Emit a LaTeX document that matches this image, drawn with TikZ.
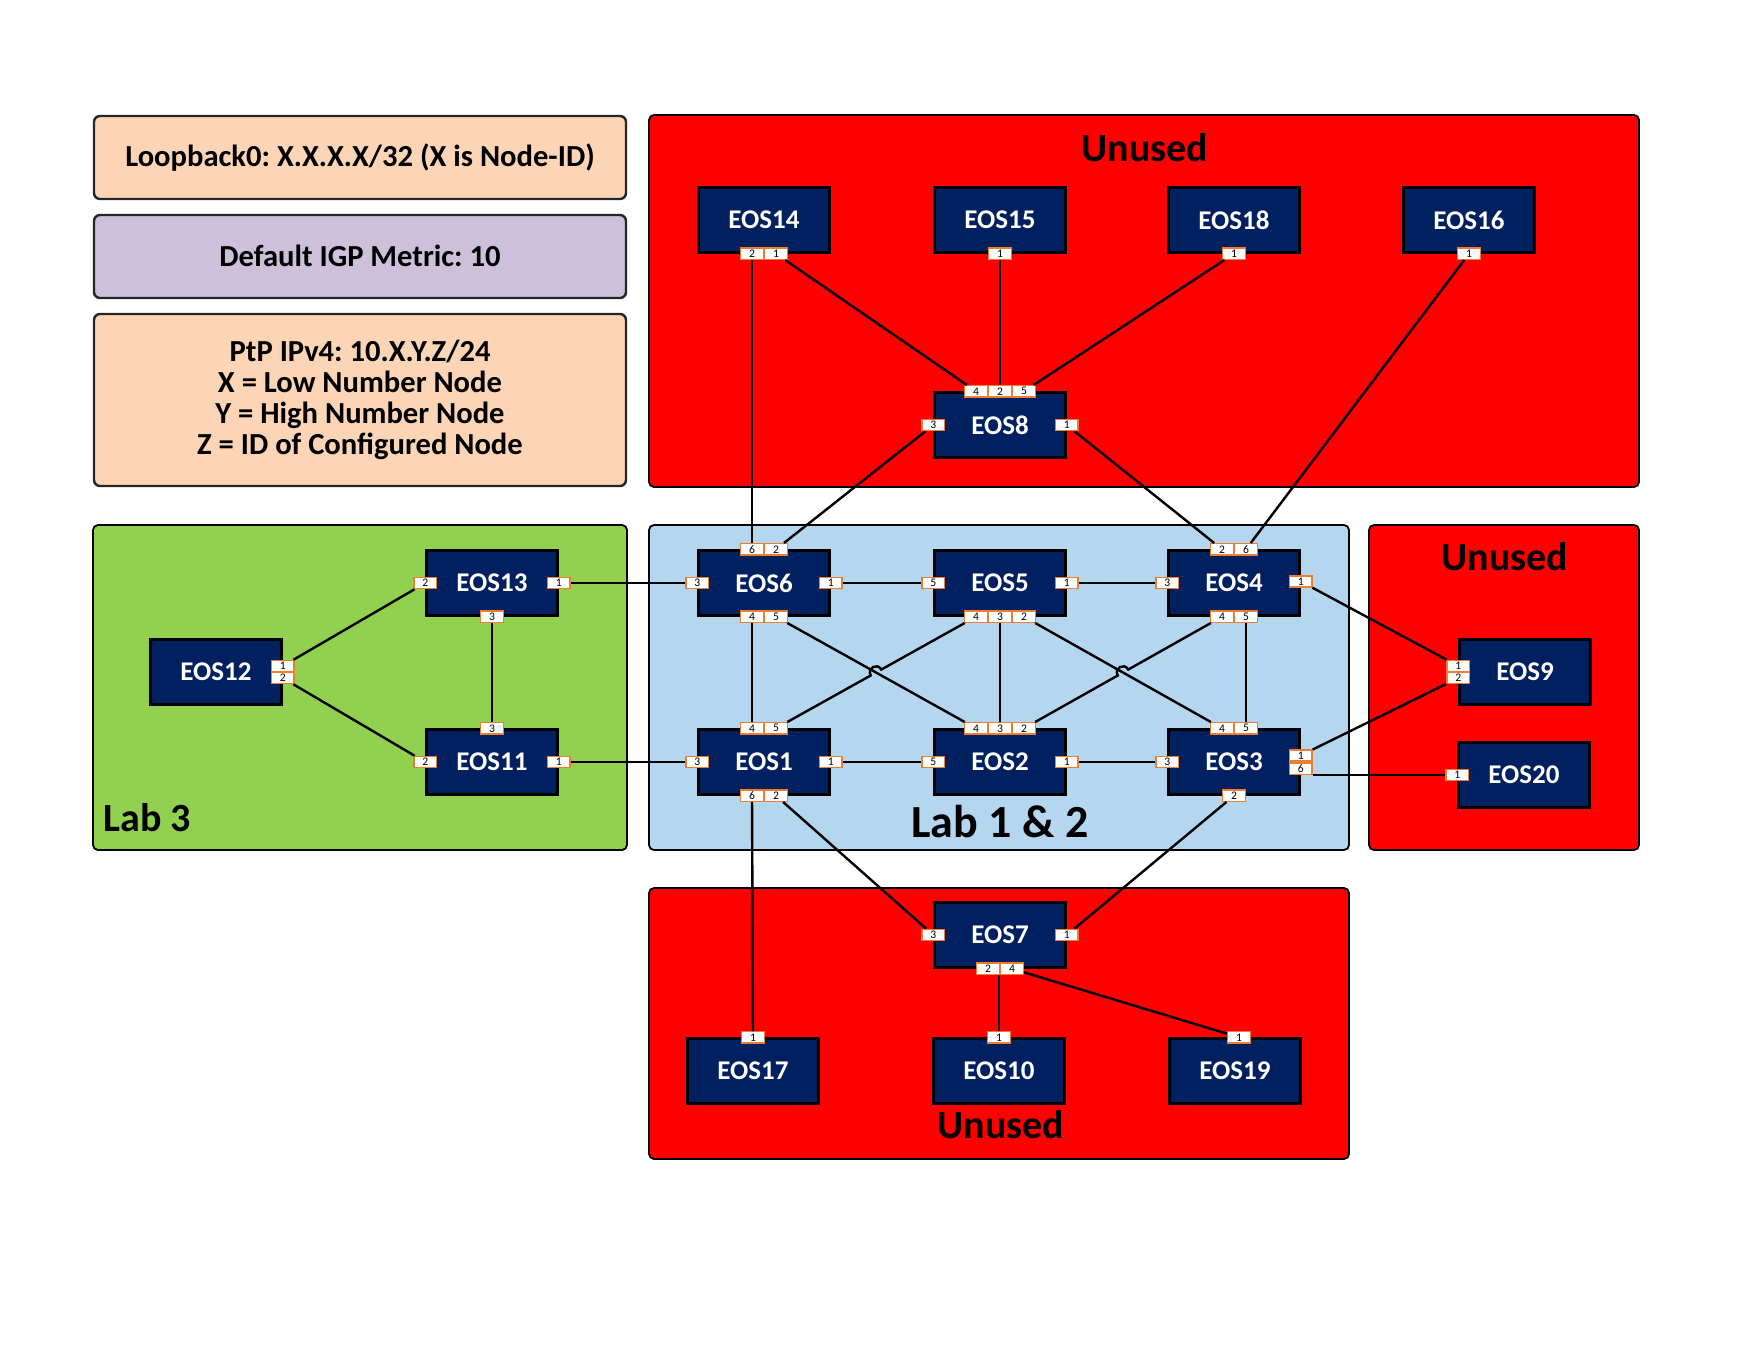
\documentclass[tikz,border=0pt]{standalone}
\usepackage{fontspec}
\setmainfont{Carlito}
\frenchspacing
\usetikzlibrary{calc}
\definecolor{navy}{RGB}{0,32,96}
\definecolor{peach}{RGB}{251,213,181}
\definecolor{lavender}{RGB}{204,192,218}
\definecolor{labgreen}{RGB}{146,208,80}
\definecolor{labblue}{RGB}{180,214,238}
\definecolor{unusedred}{RGB}{255,0,0}
\definecolor{portorange}{RGB}{237,125,49}
\begin{document}
\begin{tikzpicture}[x=0.5pt,y=-0.5pt,
  eos/.style={draw=black, line width=1.2pt, fill=navy, text=white,
    font=\fontsize{13.5}{15}\selectfont\bfseries,
    minimum width=65.5pt, minimum height=32.5pt, inner sep=0pt},
  port/.style={draw=portorange, fill=white, line width=0.7pt,
    minimum width=11.3pt, minimum height=5.6pt, inner sep=0pt,
    font=\fontsize{5.8}{6}\selectfont, text=black},
  grp/.style={draw=black, line width=0.9pt, rounded corners=2.5pt},
  legendbox/.style={draw=black!85, line width=1.2pt, rounded corners=3pt,
    font=\fontsize{15.3}{15.5}\selectfont\bfseries, align=center,
    minimum width=266pt, inner sep=0pt},
  grouplabel/.style={font=\fontsize{20}{22}\selectfont\bfseries, inner sep=0pt},
  link/.style={draw=black, line width=1.2pt}]
\useasboundingbox (0,0) rectangle (1760,1360);

% group areas
\path[grp, fill=unusedred] (649,115) rectangle (1639,487);
\path[grp, fill=labblue] (649,525) rectangle (1349,850);
\path[grp, fill=unusedred] (1369,525) rectangle (1639,850);
\path[grp, fill=unusedred] (649,888) rectangle (1349,1159);
\path[grp, fill=labgreen] (93,525) rectangle (627,850);

% group labels
\node[grouplabel] (lunusedtop) at (1145,148) {Unused};
\node[grouplabel] (lunusedright) at (1505,557) {Unused};
\node[grouplabel] (lunusedbottom) at (1001,1125) {Unused};
\node[grouplabel, font=\fontsize{23}{25}\selectfont\bfseries] (llab12) at (1000,822) {Lab 1 \& 2};
\node[grouplabel, anchor=west] (llab3) at (103,818) {Lab 3};

% legend
\node[legendbox, fill=peach, minimum height=41.5pt] (loop) at (360,157.5) {Loopback0: X.X.X.X/32 (X is Node-ID)};
\node[legendbox, fill=lavender, minimum height=41.5pt, text depth=0pt] (igp) at (360,256.5) {\raisebox{1pt}{Default IGP Metric: 10}};
\node[legendbox, fill=peach, minimum height=86pt] (ptp) at (360,400) {PtP IPv4: 10.X.Y.Z/24\\X = Low Number Node\\Y = High Number Node\\Z = ID of Configured Node};

% routers
\node[eos] (e14) at (764,220) {EOS14};
\node[eos] (e15) at (1000,220) {EOS15};
\node[eos] (e18) at (1234,220) {EOS18};
\node[eos] (e16) at (1469,220) {EOS16};
\node[eos] (e8) at (1000,425) {EOS8};
\node[eos] (e13) at (492,583) {EOS13};
\node[eos] (e6) at (764,583) {EOS6};
\node[eos] (e5) at (1000,583) {EOS5};
\node[eos] (e4) at (1234,583) {EOS4};
\node[eos] (e12) at (216,672) {EOS12};
\node[eos] (e9) at (1525,672) {EOS9};
\node[eos] (e11) at (492,762) {EOS11};
\node[eos] (e1) at (764,762) {EOS1};
\node[eos] (e2) at (1000,762) {EOS2};
\node[eos] (e3) at (1234,762) {EOS3};
\node[eos] (e20) at (1524,775) {EOS20};
\node[eos] (e7) at (1000,935) {EOS7};
\node[eos] (e17) at (753,1071) {EOS17};
\node[eos] (e10) at (999,1071) {EOS10};
\node[eos] (e19) at (1235,1071) {EOS19};

% ports
\node[port] (e14p2) at ([xshift=-6pt]e14.south) {2};
\node[port] (e14p1) at ([xshift=6pt]e14.south) {1};
\node[port] (e15p1) at (e15.south) {1};
\node[port] (e18p1) at (e18.south) {1};
\node[port] (e16p1) at (e16.south) {1};

\node[port] (e8p4) at ([xshift=-12pt]e8.north) {4};
\node[port] (e8p2) at (e8.north) {2};
\node[port] (e8p5) at ([xshift=12pt]e8.north) {5};
\node[port] (e8p3) at (e8.west) {3};
\node[port] (e8p1) at (e8.east) {1};

\node[port] (e13p2) at (e13.west) {2};
\node[port] (e13p1) at (e13.east) {1};
\node[port] (e13p3) at (e13.south) {3};

\node[port] (e6p6) at ([xshift=-6pt]e6.north) {6};
\node[port] (e6p2) at ([xshift=6pt]e6.north) {2};
\node[port] (e6p4) at ([xshift=-6pt]e6.south) {4};
\node[port] (e6p5) at ([xshift=6pt]e6.south) {5};
\node[port] (e6p3) at (e6.west) {3};
\node[port] (e6p1) at (e6.east) {1};

\node[port] (e5p5) at (e5.west) {5};
\node[port] (e5p1) at (e5.east) {1};
\node[port] (e5p4) at ([xshift=-12pt]e5.south) {4};
\node[port] (e5p3) at (e5.south) {3};
\node[port] (e5p2) at ([xshift=12pt]e5.south) {2};

\node[port] (e4p2) at ([xshift=-6pt]e4.north) {2};
\node[port] (e4p6) at ([xshift=6pt]e4.north) {6};
\node[port] (e4p3) at (e4.west) {3};
\node[port] (e4p1) at ([yshift=0.8pt]e4.east) {1};
\node[port] (e4p4) at ([xshift=-6pt]e4.south) {4};
\node[port] (e4p5) at ([xshift=6pt]e4.south) {5};

\node[port] (e12p1) at ([yshift=3pt]e12.east) {1};
\node[port] (e12p2) at ([yshift=-3pt]e12.east) {2};

\node[port] (e9p1) at ([yshift=3pt]e9.west) {1};
\node[port] (e9p2) at ([yshift=-3pt]e9.west) {2};

\node[port] (e11p3) at (e11.north) {3};
\node[port] (e11p2) at (e11.west) {2};
\node[port] (e11p1) at (e11.east) {1};

\node[port] (e1p4) at ([xshift=-6pt]e1.north) {4};
\node[port] (e1p5) at ([xshift=6pt]e1.north) {5};
\node[port] (e1p3) at (e1.west) {3};
\node[port] (e1p1) at (e1.east) {1};
\node[port] (e1p6) at ([xshift=-6pt]e1.south) {6};
\node[port] (e1p2) at ([xshift=6pt]e1.south) {2};

\node[port] (e2p4) at ([xshift=-12pt]e2.north) {4};
\node[port] (e2p3) at (e2.north) {3};
\node[port] (e2p2) at ([xshift=12pt]e2.north) {2};
\node[port] (e2p5) at (e2.west) {5};
\node[port] (e2p1) at (e2.east) {1};

\node[port] (e3p4) at ([xshift=-6pt]e3.north) {4};
\node[port] (e3p5) at ([xshift=6pt]e3.north) {5};
\node[port] (e3p3) at (e3.west) {3};
\node[port] (e3p1) at ([yshift=3.3pt]e3.east) {1};
\node[port] (e3p6) at ([yshift=-3.3pt]e3.east) {6};
\node[port] (e3p2) at (e3.south) {2};

\node[port] (e20p1) at (e20.west) {1};

\node[port] (e7p3) at (e7.west) {3};
\node[port] (e7p1) at (e7.east) {1};
\node[port] (e7p2) at ([xshift=-6pt]e7.south) {2};
\node[port] (e7p4) at ([xshift=6pt]e7.south) {4};

\node[port] (e17p1) at (e17.north) {1};
\node[port] (e10p1) at (e10.north) {1};
\node[port] (e19p1) at ([xshift=2pt]e19.north) {1};

% links
\draw[link] (e14p2) -- (e6p6);
\draw[link] (e14p1) -- (e8p4);
\draw[link] (e15p1) -- (e8p2);
\draw[link] (e18p1) -- (e8p5);
\draw[link] (e16p1) -- (e4p6);
\draw[link] (e8p3) -- (e6p2);
\draw[link] (e8p1) -- (e4p2);
\draw[link] (e13p1) -- (e6p3);
\draw[link] (e13p2) -- (e12p1);
\draw[link] (e13p3) -- (e11p3);
\draw[link] (e12p2) -- (e11p2);
\draw[link] (e11p1) -- (e1p3);
\draw[link] (e6p1) -- (e5p5);
\draw[link] (e5p1) -- (e4p3);
\draw[link] (e6p4) -- (e1p4);
\draw[link] (e6p5) -- (e2p4);
\draw[link] (e5p3) -- (e2p3);
\draw[link] (e5p2) -- (e3p4);
\draw[link] (e4p5) -- (e3p5);
\draw[link] (e4p1) -- (e9p1);
\draw[link] (e1p1) -- (e2p5);
\draw[link] (e2p1) -- (e3p3);
\draw[link] (e3p1) -- (e9p2);
\draw[link] (e3p6.south east) -- (e3p6.south east -| e20p1.west);
\draw[link] (e1p6) -- (e17p1);
\draw[link] (e1p2) -- (e7p3);
\draw[link] (e3p2) -- (e7p1);
\draw[link] (e10p1.north) -- (e10p1 |- e7p2.south);
\draw[link] (e7p4) -- (e19p1);

% links with line hops
\coordinate (xa) at (intersection of e6p5--e2p4 and e5p4--e1p5);
\coordinate (xaa) at ($(xa)!3pt!(e1p5)$);
\coordinate (xab) at ($(xa)!3pt!(e5p4)$);
\draw[link] (e1p5) -- (xaa) .. controls ($(xaa)!1.4!90:(xa)$) and ($(xab)!1.4!-90:(xa)$) .. (xab) -- (e5p4);

\coordinate (xb) at (intersection of e5p2--e3p4 and e4p4--e2p2);
\coordinate (xba) at ($(xb)!3pt!(e2p2)$);
\coordinate (xbb) at ($(xb)!3pt!(e4p4)$);
\draw[link] (e2p2) -- (xba) .. controls ($(xba)!1.4!90:(xb)$) and ($(xbb)!1.4!-90:(xb)$) .. (xbb) -- (e4p4);
\end{tikzpicture}
\end{document}
